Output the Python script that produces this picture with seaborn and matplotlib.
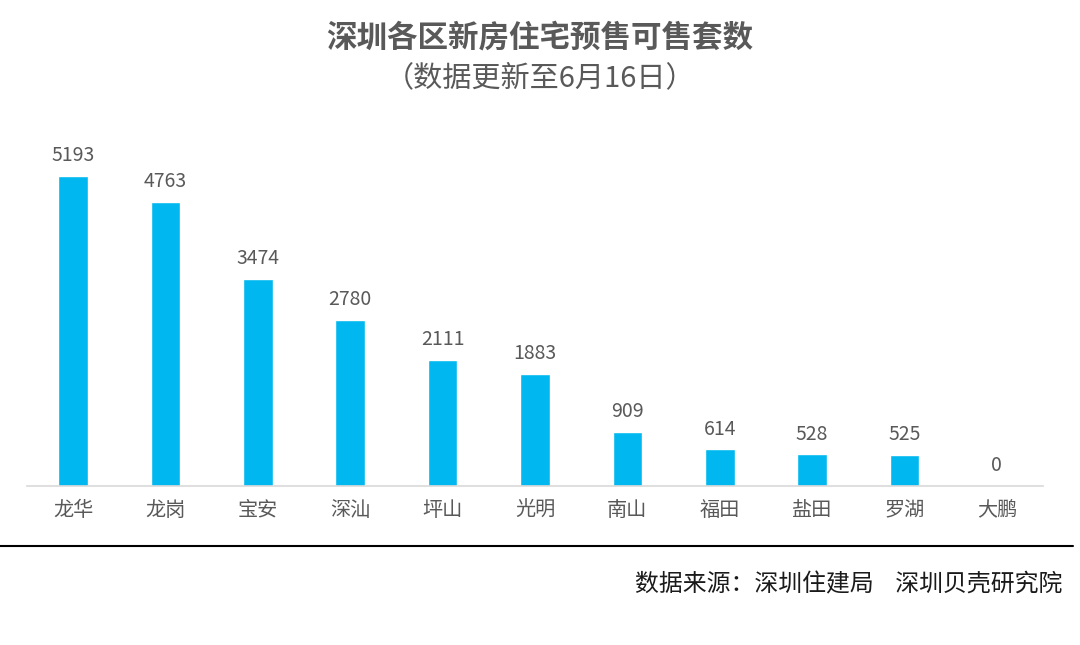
import pandas as pd
import matplotlib.pyplot as plt
import seaborn as sns
import numpy as np

# data
districts = ["龙华", "龙岗", "宝安", "深汕", "坪山", "光明", "南山", "福田", "盐田", "罗湖", "大鹏"]
units = [5193, 4763, 3474, 2780, 2111, 1883, 909, 614, 528, 525, 0]

title = "深圳各区新房住宅预售可售套数"
subtitle = "（数据更新至6月16日）"
source = "数据来源：深圳住建局    深圳贝壳研究院"

df = pd.DataFrame({"district": districts, "units": units})

sns.set_theme(style="white")
plt.rcParams["font.family"] = ["Noto Sans CJK SC", "DejaVu Sans"]

fig = plt.figure(figsize=(10.8, 6.45), dpi=100)
ax = fig.add_axes([27 / 1080, (645 - 486) / 645, (1043 - 27) / 1080, 358 / 645])

sns.barplot(data=df, x="district", y="units", color="#00B7EF", width=0.32,
            saturation=1, ax=ax)

ax.set_ylim(0, 6000)
ax.set_xlim(-0.5, len(districts) - 0.5)

for i, v in enumerate(units):
    ax.annotate(f"{v}", (i, v), xytext=(0, 7), textcoords="offset points",
                ha="center", va="bottom", fontsize=14, color="#595959")

for s in ["top", "right", "left"]:
    ax.spines[s].set_visible(False)
ax.spines["bottom"].set_color("#d9d9d9")
ax.spines["bottom"].set_linewidth(1.2)

ax.set_yticks([])
ax.set_xlabel("")
ax.set_ylabel("")
ax.tick_params(axis="x", which="major", length=0, pad=10, labelsize=14.5, labelcolor="#595959")
ax.set_xticks(np.arange(-0.5, len(districts)), minor=True)
ax.tick_params(axis="x", which="minor", length=5, color="#d9d9d9", width=1)

fig.text(0.5, 1 - 38 / 645, title, ha="center", va="center", fontsize=22,
         fontweight="bold", color="#595959")
fig.text(0.5, 1 - 78 / 645, subtitle, ha="center", va="center", fontsize=21,
         color="#595959")

fig.add_artist(plt.Line2D([0, 1073 / 1080], [1 - 546 / 645] * 2, color="black", lw=1.5))
fig.text(1062 / 1080, 1 - 585 / 645, source, ha="right", va="center", fontsize=17.2,
         color="#1a1a1a")

fig.savefig("out.png", dpi=100)
